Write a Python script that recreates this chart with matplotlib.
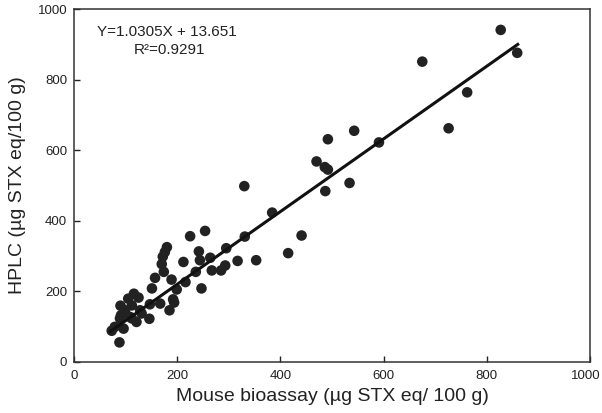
import matplotlib
matplotlib.use('Agg')
import numpy as np
import matplotlib.pyplot as plt
import matplotlib.transforms as mtransforms

plt.rcParams['font.family'] = ['Liberation Sans', 'DejaVu Sans']

# data (mouse bioassay vs HPLC)
mba = [827, 859, 675, 762, 726, 591, 543, 492, 470, 486, 492, 534, 487, 384, 441, 415,
       353, 330, 331, 317, 295, 293, 285, 267, 254, 247, 242, 264, 244, 236, 225, 212,
       216, 199, 192, 189, 180, 176, 172, 170, 174, 157, 194, 185, 167, 147, 151, 146,
       131, 128, 125, 116, 112, 112, 121, 105, 99, 90, 91, 89, 109, 96, 79, 73, 88]
hplc = [941, 876, 851, 764, 662, 622, 655, 631, 568, 552, 545, 507, 484, 423, 358, 308,
        288, 498, 355, 286, 322, 273, 259, 259, 371, 208, 313, 295, 288, 255, 356, 283,
        226, 205, 177, 233, 325, 311, 298, 277, 255, 238, 168, 146, 165, 163, 208, 122,
        137, 146, 182, 193, 160, 123, 113, 179, 146, 159, 132, 123, 127, 94, 99, 88, 55]

slope = 1.0305
intercept = 13.651
fit_x = [70, 860]

fig = plt.figure(figsize=(6.02, 4.13), dpi=100)
ax = fig.add_axes([0.123, 0.124, 0.857, 0.854])

ax.scatter(mba, hplc, s=58, color='#222222', edgecolors='none', zorder=3)
fx = np.array(fit_x)
ax.plot(fx, slope * fx + intercept, color='#111111', lw=2.2, zorder=4)

ax.set_xlim(0, 1000)
ax.set_ylim(0, 1000)
ticks = [0, 200, 400, 600, 800, 1000]
ax.set_xticks(ticks)
ax.set_yticks(ticks)
ax.tick_params(direction='in', length=4.5, width=1, colors='#222222', labelsize=9.5)
ax.tick_params(axis='x', pad=6)
ax.tick_params(axis='y', pad=5)
for s in ax.spines.values():
    s.set_color('#333333')
    s.set_linewidth(1.1)

# nudge the last x label so it stays inside the figure
last = ax.get_xticklabels()[-1]
last.set_transform(last.get_transform() +
                   mtransforms.ScaledTranslation(-4 / 100, 0, fig.dpi_scale_trans))

ax.set_xlabel('Mouse bioassay (µg STX eq/ 100 g)', fontsize=14, color='#222222', labelpad=4)
ax.set_ylabel('HPLC (µg STX eq/100 g)', fontsize=14, color='#222222', labelpad=8)

ax.text(45, 935, 'Y=1.0305X + 13.651', fontsize=11, color='#222222', va='center')
ax.text(115, 885, 'R²=0.9291', fontsize=11, color='#222222', va='center')

fig.savefig('out.png', dpi=100)
